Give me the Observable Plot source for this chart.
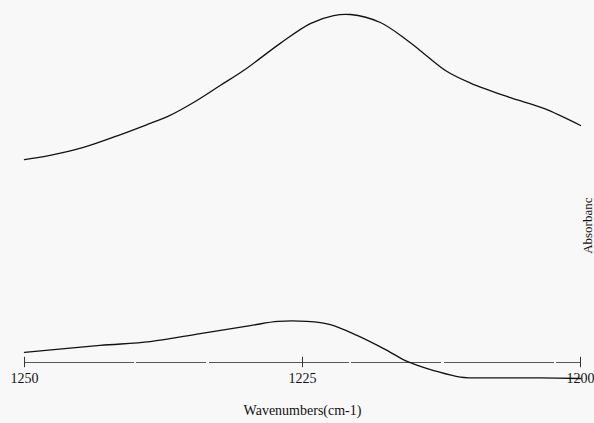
<!DOCTYPE html>
<html>
<head>
<meta charset="utf-8">
<script src="https://cdn.jsdelivr.net/npm/d3@7"></script>
<script src="https://cdn.jsdelivr.net/npm/@observablehq/plot@0.6"></script>
<style>
  html, body { margin: 0; padding: 0; background: #f8f8f8; }
  #chart svg { display: block; background: #f8f8f8; }
  #chart svg text { font-family: "Liberation Serif", "Times New Roman", serif !important; }
</style>
</head>
<body>
<div id="chart"></div>
<script>
// Upper spectrum (wavenumber, absorbance in arbitrary units)
const upperWn  = [1250, 1247.7, 1244.7, 1241.6, 1238.7, 1237.1, 1234.8, 1232.4, 1230.3, 1227.0, 1224.3, 1222.2, 1220.7, 1218.0, 1215.6, 1214.4, 1212.0, 1209.9, 1206.3, 1203.3, 1200];
const upperAbs = [58.3, 59.5, 61.8, 65.2, 68.7, 70.7, 74.7, 79.6, 83.9, 91.7, 97.4, 99.7, 100, 97.7, 92.6, 89.6, 83.6, 80.3, 76.1, 73.0, 68.1];

// Lower spectrum
const lowerWn  = [1250, 1243.2, 1238.7, 1234.2, 1229.7, 1227.2, 1224.6, 1222.5, 1220.1, 1217.7, 1215.6, 1214.4, 1213.2, 1210.8, 1207.2, 1203.6, 1200];
const lowerAbs = [2.9, 4.9, 6.0, 8.3, 10.6, 11.8, 11.8, 10.9, 7.8, 4.0, 0.3, -1.1, -2.3, -4.2, -4.4, -4.4, -4.6];

const tickValues = [1250, 1225, 1200];
const xTitle = "Wavenumbers(cm-1)";
const yTitle = "Absorbanc";

const upper = upperWn.map((w, i) => ({w, a: upperAbs[i]}));
const lower = lowerWn.map((w, i) => ({w, a: lowerAbs[i]}));

const font = "'Liberation Serif', 'Times New Roman', serif";

const chart = Plot.plot({
  width: 594,
  height: 423,
  marginLeft: 24,
  marginRight: 14,
  marginTop: 14,
  marginBottom: 61,
  style: {background: "#f8f8f8", fontFamily: font, fontSize: "14px", color: "#111"},
  x: {domain: [1250, 1200], axis: null},
  y: {domain: [0, 100], axis: null},
  marks: [
    Plot.ruleY([0], {stroke: "#555", strokeWidth: 1, strokeDasharray: "110,2,70,3,140,2,90,3"}),
    Plot.ruleX(tickValues, {x: d => d, y1: -1.5, y2: 1.5, stroke: "#333", strokeWidth: 1}),
    Plot.text(tickValues, {x: d => d, text: d => String(d), frameAnchor: "bottom", dy: 20, fill: "#111", fontSize: 14, fontFamily: font}),
    Plot.text([xTitle], {frameAnchor: "bottom", dy: 52, fill: "#111", fontSize: 14, fontFamily: font}),
    Plot.text([yTitle], {frameAnchor: "right", rotate: -90, dx: 7, dy: 9, fill: "#111", fontSize: 13, fontFamily: font}),
    Plot.line(upper, {x: "w", y: "a", curve: "catmull-rom", stroke: "#111", strokeWidth: 1.3}),
    Plot.line(lower, {x: "w", y: "a", curve: "catmull-rom", stroke: "#111", strokeWidth: 1.3})
  ]
});
document.getElementById("chart").appendChild(chart);
</script>
</body>
</html>
